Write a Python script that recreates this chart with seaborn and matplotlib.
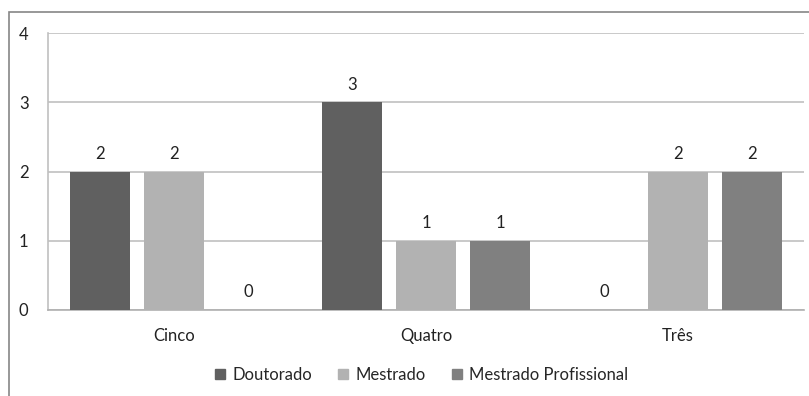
import matplotlib
matplotlib.use("Agg")
import matplotlib.pyplot as plt
from matplotlib.patches import Rectangle
from matplotlib.lines import Line2D
import seaborn as sns
import pandas as pd

# Data
categories = ["Cinco", "Quatro", "Três"]
series_names = ["Doutorado", "Mestrado", "Mestrado Profissional"]
doutorado = [2, 3, 0]
mestrado = [2, 1, 2]
mestrado_prof = [0, 1, 2]
y_ticks = [0, 1, 2, 3, 4]

colors = ["#606060", "#b2b2b2", "#808080"]

rows = []
for name, vals in zip(series_names, [doutorado, mestrado, mestrado_prof]):
    for cat, v in zip(categories, vals):
        rows.append({"categoria": cat, "nivel": name, "valor": v})
df = pd.DataFrame(rows)

sns.set_theme(style="white")
plt.rcParams["font.family"] = ["Lato", "DejaVu Sans"]
FS = 12

W, H = 809, 396
fig = plt.figure(figsize=(W / 100, H / 100), dpi=100)
fig.patch.set_facecolor("white")

# Outer chart frame (only top and left edges fall inside the canvas)
fig.patches.append(Rectangle((8.5 / W, -0.1), 1.2, (H - 11.5) / H + 0.1,
                             transform=fig.transFigure, fill=False,
                             edgecolor="#868686", linewidth=1.2, zorder=0))

left, right, top, bottom = 48, 804, 33, 310
ax = fig.add_axes([left / W, 1 - bottom / H, (right - left) / W, (bottom - top) / H])

sns.barplot(data=df, x="categoria", y="valor", hue="nivel", order=categories,
            hue_order=series_names, palette=colors, width=0.881, gap=0.2,
            saturation=1, linewidth=0, ax=ax, legend=False, errorbar=None,
            zorder=3)

ax.set_ylim(0, 4)
ax.set_xlim(-0.5, 2.5)
ax.set_yticks(y_ticks)
ax.set_yticklabels([str(t) for t in y_ticks], fontsize=FS, color="#222222")
ax.tick_params(axis="y", length=0, pad=14)
ax.tick_params(axis="x", length=0, pad=13, labelsize=FS, labelcolor="#222222")
ax.set_xlabel("")
ax.set_ylabel("")

ax.yaxis.grid(True, color="#c0c0c0", linewidth=1.2, zorder=0)
ax.set_axisbelow(True)
for side in ["top", "right"]:
    ax.spines[side].set_visible(False)
ax.spines["left"].set_color("#c0c0c0")
ax.spines["bottom"].set_color("#b0b0b0")
ax.spines["left"].set_linewidth(1.2)
ax.spines["bottom"].set_linewidth(1.2)

for container in ax.containers:
    ax.bar_label(container, fmt="%g", padding=7, fontsize=FS, color="#222222")

handles = [Line2D([0], [0], marker="s", linestyle="none", markersize=7.5,
                  markerfacecolor=c, markeredgecolor=c) for c in colors]
fig.legend(handles, series_names, loc="center", bbox_to_anchor=(420 / W, 1 - 375 / H),
           ncol=3, frameon=False, fontsize=FS, handletextpad=0.25,
           columnspacing=1.35, handlelength=1.0)

fig.savefig("out.png", dpi=100, facecolor="white")
